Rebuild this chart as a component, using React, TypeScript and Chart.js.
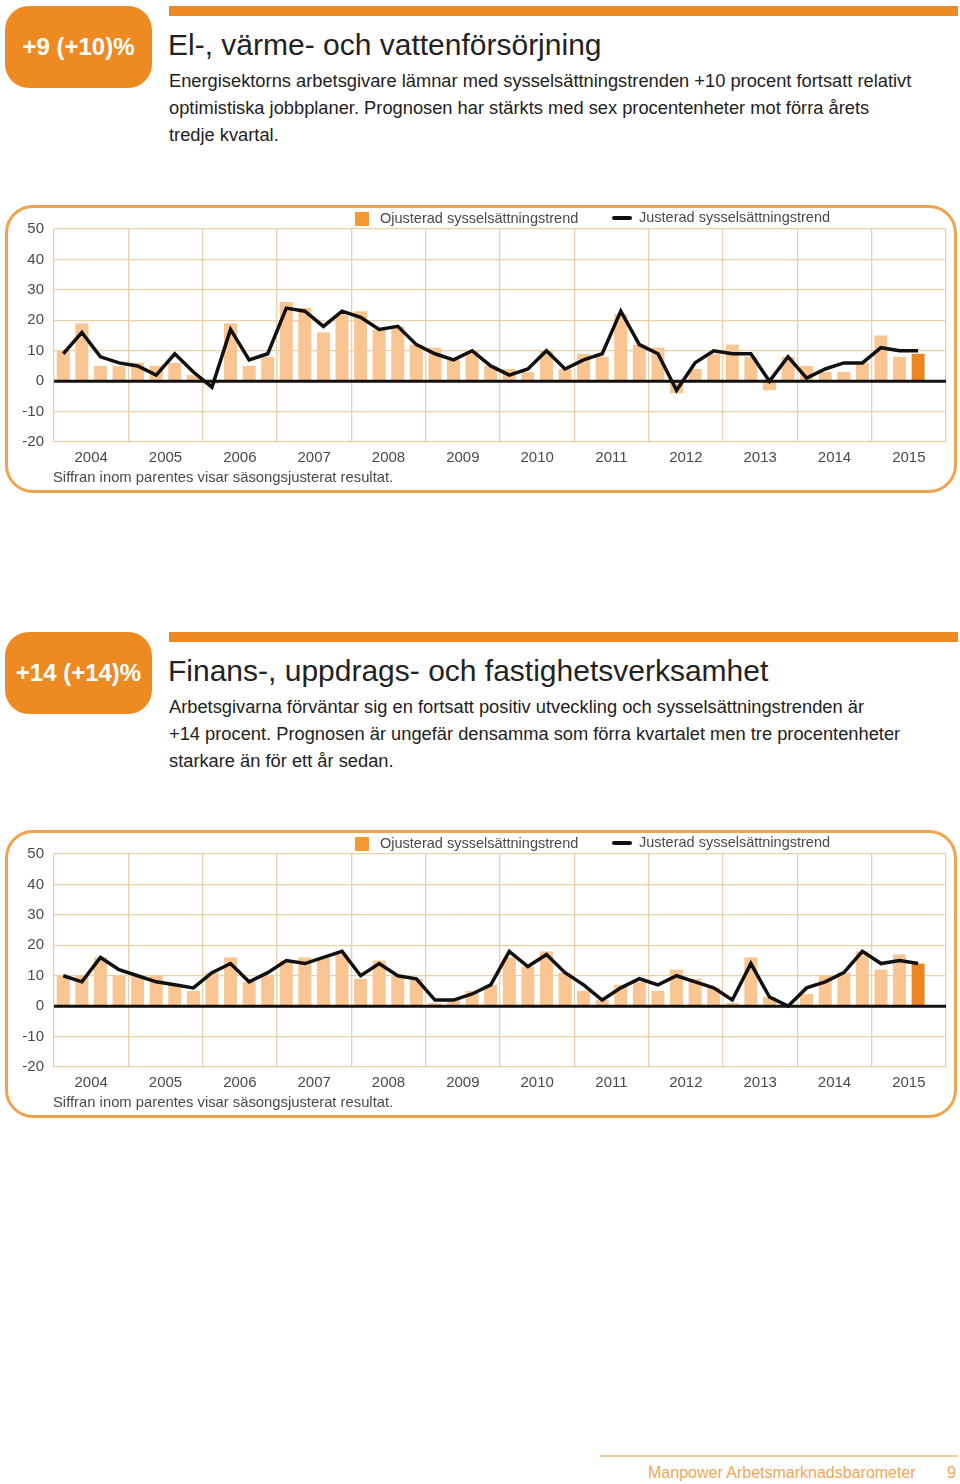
import React, { useEffect, useRef } from 'react';
import { Chart, registerables } from 'chart.js';

Chart.register(...registerables);

// ---------- data ----------
const YEARS = ['2004', '2005', '2006', '2007', '2008', '2009', '2010', '2011', '2012', '2013', '2014', '2015'];
const QUARTERS = ['K1', 'K2', 'K3', 'K4'];
const Y_MIN = -20;
const Y_MAX = 50;
const Y_STEP = 10;

// El-, värme- och vattenförsörjning (2004 K1 – 2015 K3)
const EL_BARS = [10, 19, 5, 5, 6, 5, 6, 2, -1, 19, 5, 8, 26, 24, 16, 22, 23, 17, 18, 12, 11, 7, 10, 5, 4, 3, 10, 4, 9, 8, 22, 12, 11, -4, 4, 9, 12, 8, -3, 8, 5, 3, 3, 6, 15, 8, 9];
const EL_TREND = [9, 16, 8, 6, 5, 2, 9, 3, -2, 17, 7, 9, 24, 23, 18, 23, 21, 17, 18, 12, 9, 7, 10, 5, 2, 4, 10, 4, 7, 9, 23, 12, 9, -3, 6, 10, 9, 9, 0, 8, 1, 4, 6, 6, 11, 10, 10];

// Finans-, uppdrags- och fastighetsverksamhet (2004 K1 – 2015 K3)
const FIN_BARS = [10, 10, 16, 10, 10, 10, 7, 5, 11, 16, 8, 10, 15, 16, 16, 17, 9, 15, 10, 9, 1, 2, 5, 7, 16, 13, 18, 11, 5, 2, 7, 8, 5, 12, 9, 6, 1, 16, 3, 0, 4, 10, 11, 18, 12, 17, 14];
const FIN_TREND = [10, 8, 16, 12, 10, 8, 7, 6, 11, 14, 8, 11, 15, 14, 16, 18, 10, 14, 10, 9, 2, 2, 4, 7, 18, 13, 17, 11, 7, 2, 6, 9, 7, 10, 8, 6, 2, 14, 3, 0, 6, 8, 11, 18, 14, 15, 14];

const LEGEND_BAR = 'Ojusterad sysselsättningstrend';
const LEGEND_LINE = 'Justerad sysselsättningstrend';
const NOTE = 'Siffran inom parentes visar säsongsjusterat resultat.';

const EL_BADGE = '+9 (+10)%';
const EL_TITLE = 'El-, värme- och vattenförsörjning';
const EL_TEXT = [
  'Energisektorns arbetsgivare lämnar med sysselsättningstrenden +10 procent fortsatt relativt',
  'optimistiska jobbplaner. Prognosen har stärkts med sex procentenheter mot förra årets',
  'tredje kvartal.',
];

const FIN_BADGE = '+14 (+14)%';
const FIN_TITLE = 'Finans-, uppdrags- och fastighetsverksamhet';
const FIN_TEXT = [
  'Arbetsgivarna förväntar sig en fortsatt positiv utveckling och sysselsättningstrenden är',
  '+14 procent. Prognosen är ungefär densamma som förra kvartalet men tre procentenheter',
  'starkare än för ett år sedan.',
];

const FOOTER = 'Manpower Arbetsmarknadsbarometer';
const PAGE_NO = '9';

// ---------- styles ----------
const FONT = "'Liberation Sans', Arial, Helvetica, sans-serif";
const ORANGE = '#EE8A22';
const BORDER = '#F0A24C';
const GRID = '#EACFA8';
const BAR_LIGHT = '#F8C593';
const BAR_LAST = '#EC8621';
const LEGEND_SQ = '#F39A33';
const TEXT = '#222';
const TICK = '#4a4a4a';

const QUARTER_LABELS = YEARS.flatMap((y) => QUARTERS.map((q) => `${y} ${q}`));

const zeroLinePlugin = {
  id: 'zeroLine',
  afterDatasetsDraw(chart: any) {
    const { ctx, chartArea, scales } = chart;
    const y = scales.y.getPixelForValue(0);
    ctx.save();
    ctx.strokeStyle = '#111';
    ctx.lineWidth = 3;
    ctx.beginPath();
    ctx.moveTo(chartArea.left, y);
    ctx.lineTo(chartArea.right, y);
    ctx.stroke();
    ctx.restore();
  },
};

function TrendChart({ bars, trend, top }: { bars: number[]; trend: number[]; top: number }) {
  const ref = useRef<HTMLCanvasElement | null>(null);
  useEffect(() => {
    if (!ref.current) return;
    const chart = new Chart(ref.current, {
      type: 'bar',
      data: {
        labels: QUARTER_LABELS,
        datasets: [
          {
            type: 'line',
            label: LEGEND_LINE,
            data: trend,
            borderColor: '#111',
            borderWidth: 3.5,
            pointRadius: 0,
            tension: 0,
            borderJoinStyle: 'miter',
            order: 0,
            xAxisID: 'x',
          } as any,
          {
            type: 'bar',
            label: LEGEND_BAR,
            data: bars,
            backgroundColor: bars.map((_, i) => (i === bars.length - 1 ? BAR_LAST : BAR_LIGHT)),
            barPercentage: 0.7,
            categoryPercentage: 1,
            order: 1,
            xAxisID: 'x',
          } as any,
        ],
      },
      options: {
        responsive: false,
        animation: false,
        events: [],
        layout: { padding: { top: 29, right: 14, bottom: 28, left: 0 } },
        plugins: { legend: { display: false }, tooltip: { enabled: false }, title: { display: false } },
        scales: {
          x: { type: 'category', display: false, offset: true },
          xYear: {
            type: 'linear',
            position: 'bottom',
            min: 0,
            max: YEARS.length,
            offset: false,
            afterBuildTicks: (scale: any) => {
              const t: any[] = [];
              for (let k = 0; k <= YEARS.length * 2; k++) t.push({ value: k / 2 });
              scale.ticks = t;
            },
            afterFit: (scale: any) => {
              scale.height = 30;
            },
            grid: {
              offset: false,
              color: (ctx: any) => (ctx.tick && Number.isInteger(ctx.tick.value) ? GRID : 'rgba(0,0,0,0)'),
              lineWidth: 1.3,
              drawTicks: false,
            },
            border: { display: false },
            ticks: {
              autoSkip: false,
              maxRotation: 0,
              padding: 7,
              color: TICK,
              font: { size: 15, family: FONT },
              callback: (v: any) => (Number.isInteger(v) ? '' : YEARS[Math.floor(v)]),
            },
          },
          y: {
            min: Y_MIN,
            max: Y_MAX,
            afterFit: (scale: any) => {
              scale.width = 54;
            },
            grid: { color: GRID, lineWidth: 1.3, drawTicks: false },
            border: { display: false },
            ticks: {
              stepSize: Y_STEP,
              padding: 10,
              color: TICK,
              font: { size: 15, family: FONT },
            },
          },
        },
      } as any,
      plugins: [zeroLinePlugin],
    });
    return () => chart.destroy();
  }, [bars, trend]);

  return (
    <>
      <div
        style={{
          position: 'absolute',
          left: 5,
          top: top + 5,
          width: 952,
          height: 288,
          boxSizing: 'border-box',
          border: `3px solid ${BORDER}`,
          borderRadius: 28,
        }}
      />
      <canvas ref={ref} width={960} height={300} style={{ position: 'absolute', left: 0, top, width: 960, height: 300 }} />
      {/* legend */}
      <div style={{ position: 'absolute', left: 355, top: top + 12, width: 14, height: 14, background: LEGEND_SQ }} />
      <div style={{ position: 'absolute', left: 380, top: top + 9, fontSize: 14.5, lineHeight: '18px', color: TICK, whiteSpace: 'nowrap' }}>{LEGEND_BAR}</div>
      <div style={{ position: 'absolute', left: 612, top: top + 16, width: 20, height: 4, background: '#111', borderRadius: 2 }} />
      <div style={{ position: 'absolute', left: 639, top: top + 8, fontSize: 14.5, lineHeight: '18px', color: TICK, whiteSpace: 'nowrap' }}>{LEGEND_LINE}</div>
      <div style={{ position: 'absolute', left: 53, top: top + 268, fontSize: 14.8, lineHeight: '18px', color: TICK, whiteSpace: 'nowrap' }}>{NOTE}</div>
    </>
  );
}

function Header({ badge, title, lines, top }: { badge: string; title: string; lines: string[]; top: number }) {
  return (
    <>
      <div
        style={{
          position: 'absolute',
          left: 5,
          top: top + 6,
          width: 147,
          height: 82,
          borderRadius: 24,
          background: ORANGE,
          color: '#fff',
          display: 'flex',
          alignItems: 'center',
          justifyContent: 'center',
          fontWeight: 'bold',
          fontSize: 24,
          lineHeight: '24px',
          whiteSpace: 'nowrap',
        }}
      >
        {badge}
      </div>
      <div style={{ position: 'absolute', left: 169, top: top + 6, width: 789, height: 10, background: ORANGE }} />
      <div style={{ position: 'absolute', left: 168, top: top + 30, fontSize: 30, lineHeight: '30px', color: TEXT, whiteSpace: 'nowrap' }}>{title}</div>
      <div style={{ position: 'absolute', left: 169, top: top + 67, fontSize: 18.3, lineHeight: '27px', color: TEXT }}>
        {lines.map((l, i) => (
          <div key={i} style={{ whiteSpace: 'nowrap' }}>
            {l}
          </div>
        ))}
      </div>
    </>
  );
}

export default function App() {
  useEffect(() => {
    Chart.defaults.font.family = FONT;
  }, []);
  return (
    <div style={{ position: 'absolute', left: 0, top: 0, width: 960, height: 1484, background: '#fff', fontFamily: FONT, overflow: 'hidden' }}>
      <Header badge={EL_BADGE} title={EL_TITLE} lines={EL_TEXT} top={0} />
      <TrendChart bars={EL_BARS} trend={EL_TREND} top={200} />
      <Header badge={FIN_BADGE} title={FIN_TITLE} lines={FIN_TEXT} top={626} />
      <TrendChart bars={FIN_BARS} trend={FIN_TREND} top={825} />
      <div style={{ position: 'absolute', left: 600, top: 1455, width: 358, height: 2, background: '#EFCB9F' }} />
      <div style={{ position: 'absolute', left: 648, top: 1463, fontSize: 16, lineHeight: '20px', color: '#F0A658', whiteSpace: 'nowrap' }}>{FOOTER}</div>
      <div style={{ position: 'absolute', left: 947, top: 1463, fontSize: 16, lineHeight: '20px', color: '#F0A658' }}>{PAGE_NO}</div>
    </div>
  );
}
